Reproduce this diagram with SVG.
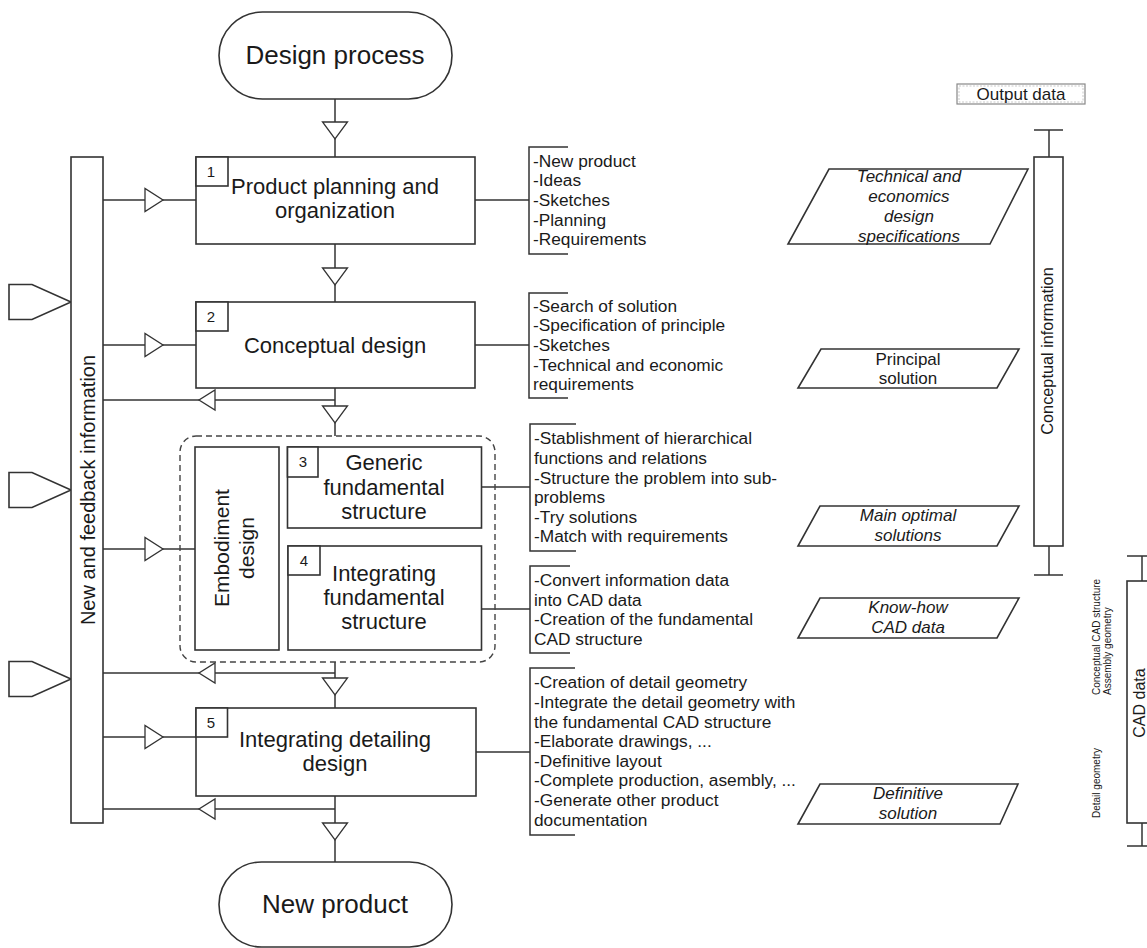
<svg xmlns="http://www.w3.org/2000/svg" width="1147" height="948" viewBox="0 0 1147 948">
  <style>
    .ln{fill:none;stroke:#333;stroke-width:1.5}
    .box{fill:#fff;stroke:#333;stroke-width:1.6}
    .dash{fill:none;stroke:#444;stroke-width:1.4;stroke-dasharray:6 4}
    .tri{fill:#fff;stroke:#333;stroke-width:1.3}
    text{font-family:"Liberation Sans",Arial,Helvetica,sans-serif;fill:#1a1a1a}
    .t26{font-size:26px;text-anchor:middle}
    .t22{font-size:22px;text-anchor:middle}
    .num{font-size:15px;text-anchor:middle}
    .lst{font-size:17.3px}
    .par{font-size:17px;text-anchor:middle}
    .it{font-style:italic}
    .sm{font-size:10px}
  </style>
  <defs>
    <path id="triDown" class="tri" d="M-12.5,0 L12.5,0 L0,17 Z"/>
    <path id="triRight" class="tri" d="M0,-11.5 L0,11.5 L18,0 Z"/>
    <path id="triLeft" class="tri" d="M16,-10 L16,10 L0,0 Z"/>
    <path id="penta" class="box" d="M9,-17.5 L32,-17.5 L71,0 L32,17.5 L9,17.5 Z"/>
  </defs>

  <!-- flow connectors -->
  <g id="connectors">
    <!-- main vertical flow -->
    <line class="ln" x1="335" y1="99" x2="335" y2="157"/>
    <line class="ln" x1="335" y1="244" x2="335" y2="302"/>
    <line class="ln" x1="335" y1="388" x2="335" y2="436"/>
    <line class="ln" x1="335" y1="662" x2="335" y2="708"/>
    <line class="ln" x1="335" y1="796" x2="335" y2="862"/>
    <use href="#triDown" x="335" y="122"/>
    <use href="#triDown" x="335" y="268"/>
    <use href="#triDown" x="335" y="406"/>
    <use href="#triDown" x="335" y="678"/>
    <use href="#triDown" x="335" y="823"/>
    <!-- inputs from the information bar -->
    <line class="ln" x1="103" y1="200" x2="196" y2="200"/>
    <line class="ln" x1="103" y1="345" x2="196" y2="345"/>
    <line class="ln" x1="103" y1="549" x2="195" y2="549"/>
    <line class="ln" x1="103" y1="737" x2="196" y2="737"/>
    <use href="#triRight" x="145" y="200"/>
    <use href="#triRight" x="145" y="345"/>
    <use href="#triRight" x="145" y="549"/>
    <use href="#triRight" x="145" y="737"/>
    <!-- feedback back to the bar -->
    <line class="ln" x1="103" y1="400" x2="335" y2="400"/>
    <line class="ln" x1="103" y1="673" x2="335" y2="673"/>
    <line class="ln" x1="103" y1="809" x2="335" y2="809"/>
    <use href="#triLeft" x="199" y="400"/>
    <use href="#triLeft" x="199" y="673"/>
    <use href="#triLeft" x="199" y="809"/>
    <!-- outputs to the activity lists -->
    <line class="ln" x1="475" y1="200" x2="529" y2="200"/>
    <line class="ln" x1="475" y1="345" x2="529" y2="345"/>
    <line class="ln" x1="481" y1="487" x2="530" y2="487"/>
    <line class="ln" x1="481" y1="609" x2="530" y2="609"/>
    <line class="ln" x1="476" y1="752" x2="530" y2="752"/>
    <!-- list brackets -->
    <path class="ln" d="M568,147 H529 V254 H568"/>
    <path class="ln" d="M568,293 H529 V398 H568"/>
    <path class="ln" d="M576,424 H530 V551 H576"/>
    <path class="ln" d="M570,566 H530 V653 H570"/>
    <path class="ln" d="M575,668 H530 V835 H575"/>
  </g>

  <!-- external inputs -->
  <g id="inputs">
    <use href="#penta" x="0" y="302"/>
    <use href="#penta" x="0" y="490"/>
    <use href="#penta" x="0" y="679"/>
  </g>

  <g id="feedback-bar">
    <rect class="box" x="71" y="157" width="32" height="666"/>
    <text transform="translate(95,490) rotate(-90)" text-anchor="middle" font-size="20">New and feedback information</text>
  </g>

  <g id="start">
    <rect class="box" x="219" y="12" width="233" height="87" rx="43.5"/>
    <text class="t26" x="335" y="64">Design process</text>
  </g>

  <g id="step1">
    <rect class="box" x="196" y="157" width="279" height="87"/>
    <rect class="box" x="196" y="157" width="32" height="29"/>
    <text class="num" x="211" y="177">1</text>
    <text class="t22" x="335" y="194">Product planning and</text>
    <text class="t22" x="335" y="218">organization</text>
  </g>

  <g id="step2">
    <rect class="box" x="196" y="302" width="279" height="86"/>
    <rect class="box" x="196" y="302" width="32" height="29"/>
    <text class="num" x="211" y="322">2</text>
    <text class="t22" x="335" y="353">Conceptual design</text>
  </g>

  <g id="embodiment">
    <rect class="dash" x="180" y="436" width="315" height="226" rx="16"/>
    <rect class="box" x="195" y="447" width="84" height="203"/>
    <text transform="translate(229,548) rotate(-90)" text-anchor="middle" font-size="21">Embodiment</text>
    <text transform="translate(254,548) rotate(-90)" text-anchor="middle" font-size="21">design</text>
  </g>

  <g id="step3">
    <rect class="box" x="287.5" y="447" width="194" height="81"/>
    <rect class="box" x="287.5" y="447" width="30.5" height="30"/>
    <text class="num" x="303" y="467">3</text>
    <text class="t22" x="384" y="470">Generic</text>
    <text class="t22" x="384" y="495">fundamental</text>
    <text class="t22" x="384" y="519">structure</text>
  </g>

  <g id="step4">
    <rect class="box" x="288" y="546" width="193.5" height="104"/>
    <rect class="box" x="288" y="546" width="32" height="29"/>
    <text class="num" x="304" y="566">4</text>
    <text class="t22" x="384" y="581">Integrating</text>
    <text class="t22" x="384" y="605">fundamental</text>
    <text class="t22" x="384" y="629">structure</text>
  </g>

  <g id="step5">
    <rect class="box" x="196" y="708" width="280" height="88"/>
    <rect class="box" x="196" y="708" width="31.5" height="29"/>
    <text class="num" x="211" y="728">5</text>
    <text class="t22" x="335" y="747">Integrating detailing</text>
    <text class="t22" x="335" y="771">design</text>
  </g>

  <g id="end">
    <rect class="box" x="219" y="862" width="233" height="85" rx="42.5"/>
    <text class="t26" x="335" y="913">New product</text>
  </g>

  <!-- activity lists -->
  <g id="list1">
    <text class="lst" x="533" y="166.5">-New product</text>
    <text class="lst" x="533" y="186">-Ideas</text>
    <text class="lst" x="533" y="206">-Sketches</text>
    <text class="lst" x="533" y="225.5">-Planning</text>
    <text class="lst" x="533" y="245">-Requirements</text>
  </g>
  <g id="list2">
    <text class="lst" x="533" y="311.5">-Search of solution</text>
    <text class="lst" x="533" y="331">-Specification of principle</text>
    <text class="lst" x="533" y="351">-Sketches</text>
    <text class="lst" x="533" y="370.5">-Technical and economic</text>
    <text class="lst" x="533" y="390">requirements</text>
  </g>
  <g id="list3">
    <text class="lst" x="534" y="444.3">-Stablishment of hierarchical</text>
    <text class="lst" x="534" y="463.9">functions and relations</text>
    <text class="lst" x="534" y="483.5">-Structure the problem into sub-</text>
    <text class="lst" x="534" y="503.1">problems</text>
    <text class="lst" x="534" y="522.7">-Try solutions</text>
    <text class="lst" x="534" y="542.3">-Match with requirements</text>
  </g>
  <g id="list4">
    <text class="lst" x="534" y="586">-Convert information data</text>
    <text class="lst" x="534" y="605.6">into CAD data</text>
    <text class="lst" x="534" y="625.2">-Creation of the fundamental</text>
    <text class="lst" x="534" y="644.8">CAD structure</text>
  </g>
  <g id="list5">
    <text class="lst" x="534" y="688.3">-Creation of detail geometry</text>
    <text class="lst" x="534" y="707.9">-Integrate the detail geometry with</text>
    <text class="lst" x="534" y="727.5">the fundamental CAD structure</text>
    <text class="lst" x="534" y="747.1">-Elaborate drawings, ...</text>
    <text class="lst" x="534" y="766.7">-Definitive layout</text>
    <text class="lst" x="534" y="786.3">-Complete production, asembly, ...</text>
    <text class="lst" x="534" y="805.9">-Generate other product</text>
    <text class="lst" x="534" y="825.5">documentation</text>
  </g>

  <!-- output data -->
  <g id="output-header">
    <rect x="957" y="84" width="128" height="20" fill="#fff" stroke="#888" stroke-width="1.2"/>
    <rect x="959" y="86" width="124" height="16" fill="none" stroke="#bbb" stroke-width="0.8" stroke-dasharray="2 1.5"/>
    <text x="1021" y="100" text-anchor="middle" font-size="17">Output data</text>
  </g>
  <g id="out1">
    <path class="box" d="M829,169 H1028 L990,244 H788 Z"/>
    <text class="par it" x="909" y="182">Technical and</text>
    <text class="par it" x="909" y="202">economics</text>
    <text class="par it" x="909" y="222">design</text>
    <text class="par it" x="909" y="242">specifications</text>
  </g>
  <g id="out2">
    <path class="box" d="M821,349 H1019 L997,388 H798 Z"/>
    <text class="par" x="908" y="365">Principal</text>
    <text class="par" x="908" y="384">solution</text>
  </g>
  <g id="out3">
    <path class="box" d="M820,506 H1019 L997,546 H798 Z"/>
    <text class="par it" x="908" y="521">Main optimal</text>
    <text class="par it" x="908" y="541">solutions</text>
  </g>
  <g id="out4">
    <path class="box" d="M820,598 H1019 L997,638 H798 Z"/>
    <text class="par it" x="908" y="613">Know-how</text>
    <text class="par it" x="908" y="633">CAD data</text>
  </g>
  <g id="out5">
    <path class="box" d="M820,784 H1018 L1000,824 H798 Z"/>
    <text class="par it" x="908" y="799">Definitive</text>
    <text class="par it" x="908" y="819">solution</text>
  </g>

  <!-- information ranges -->
  <g id="conceptual-info">
    <path class="ln" d="M1034,130 H1063 M1049,130 V157 M1049,546 V575 M1034,575 H1063"/>
    <rect class="box" x="1034" y="157" width="29" height="389"/>
    <text transform="translate(1053,351) rotate(-90)" text-anchor="middle" font-size="16.3">Conceptual information</text>
  </g>
  <g id="cad-data">
    <path class="ln" d="M1127,556 H1160 M1142,556 V581 M1142,823 V846 M1127,846 H1160"/>
    <rect class="box" x="1127" y="581" width="40" height="242"/>
    <text transform="translate(1145,703) rotate(-90)" text-anchor="middle" font-size="16">CAD data</text>
    <text class="sm" transform="translate(1100,695) rotate(-90)">Conceptual CAD structure</text>
    <text class="sm" transform="translate(1111,695) rotate(-90)">Assembly geometry</text>
    <text class="sm" transform="translate(1100,818) rotate(-90)">Detail geometry</text>
  </g>
</svg>
